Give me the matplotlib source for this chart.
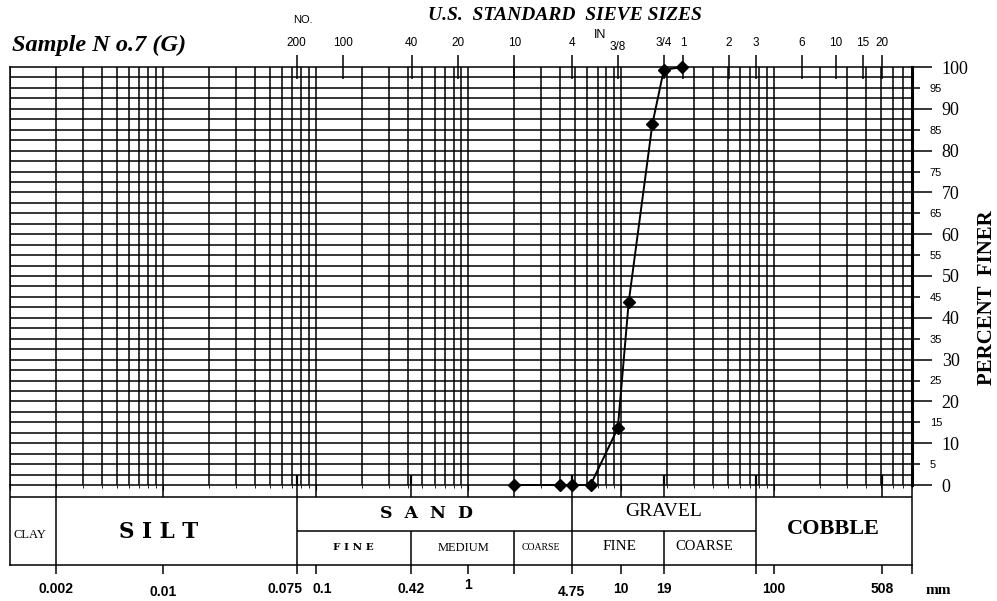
import numpy as np
import matplotlib
matplotlib.use("Agg")
import matplotlib.pyplot as plt
from matplotlib.ticker import NullLocator
from matplotlib.transforms import blended_transform_factory, ScaledTranslation

# grain size curve: sieve opening (mm) vs percent finer
sizes = [2.0, 4.0, 4.75, 6.3, 9.5, 11.2, 16.0, 19.0, 25.0]
finer = [0.0, 0.0, 0.0, 0.0, 13.6, 43.8, 86.4, 99.3, 100.0]

# US standard sieve marks along the top
sieve_mm = [0.075, 0.15, 0.425, 0.85, 2.0, 4.75, 9.525, 19.05, 25.4,
            50.8, 76.2, 152.4, 254.0, 381.0, 508.0]
sieve_lbl = ['200', '100', '40', '20', '10', '4', '3/8', '3/4', '1',
             '2', '3', '6', '10', '15', '20']

# grain size marks along the bottom
bottom_mm = [0.002, 0.01, 0.075, 0.1, 0.42, 1, 2, 4.75, 10, 19, 76.2, 100, 508, 800]
bottom_lbl = ['0.002', '0.01', '0.075', '0.1', '0.42', '1', '', '4.75', '10', '19',
              '', '100', '508', '']

# classification boundaries (mm)
class_full = [0.002, 0.075, 4.75, 76.2]
class_sub = [0.42, 2.0, 19.0]
strip_marks = [0.002, 0.01, 0.075, 0.1, 0.42, 1, 2, 4.75, 10, 19, 76.2, 100, 508]
edge_marks = [0.075, 0.42, 4.75, 19, 76.2, 508]

major_pct = list(range(0, 101, 10))
minor_pct = list(range(5, 100, 10))

W, H = 997, 601
XMIN, XMAX = 0.001, 800


def fx(px):
    return px / W


def fy(py):
    return 1 - py / H


def fr(px):
    # pixel column -> fraction of the chart width
    return (px - 10) / 902.0


serif = 'Liberation Serif'
sans = 'Liberation Sans'
lw = 1.1

fig = plt.figure(figsize=(W / 100, H / 100), dpi=100)
fig.patch.set_facecolor('white')

# ---- main grid
ax = fig.add_axes([fx(10), fy(485), fx(912) - fx(10), fy(67) - fy(485)])
ax.set_xscale('log')
ax.set_xlim(XMIN, XMAX)
ax.set_ylim(0, 100)

vgrid = [m * 10.0 ** k for k in range(-3, 3) for m in range(1, 10) if m * 10.0 ** k <= XMAX]
ax.vlines(vgrid, 0, 100, color='black', lw=lw)
ax.hlines(np.arange(2.5, 100, 2.5), XMIN, XMAX, color='black', lw=lw)
ax.vlines(edge_marks, 0, 2.5, color='black', lw=1.6)

ax.plot(sizes, finer, '-', color='black', lw=1.4, clip_on=False, zorder=5)
ax.plot(sizes, finer, 'D', color='black', ms=6.5, clip_on=False, zorder=6)

for s in ax.spines.values():
    s.set_linewidth(lw)
ax.spines['right'].set_linewidth(2.2)

ax.tick_params(axis='x', which='both', bottom=False, labelbottom=False)
ax.yaxis.tick_right()
ax.set_yticks(major_pct, labels=[str(v) for v in major_pct])
ax.set_yticks(minor_pct, labels=[str(v) for v in minor_pct], minor=True)
ax.tick_params(axis='y', which='major', length=14.4, width=lw, pad=7, labelsize=13)
ax.tick_params(axis='y', which='minor', length=5.8, width=lw, pad=7, labelsize=8)
for t in ax.get_yticklabels():
    t.set_fontfamily(serif)
for t in ax.get_yticklabels(minor=True):
    t.set_fontfamily(sans)

# ---- sieve numbers on top
ax_top = ax.twiny()
ax_top.set_xscale('log')
ax_top.set_xlim(XMIN, XMAX)
ax_top.set_xticks(sieve_mm, labels=sieve_lbl)
ax_top.xaxis.set_minor_locator(NullLocator())
ax_top.tick_params(axis='x', direction='inout', length=16.6, width=lw, pad=5, labelsize=8.5)
for t in ax_top.get_xticklabels():
    t.set_fontfamily(sans)
for tick, lab in zip(ax_top.xaxis.get_major_ticks(), sieve_lbl):
    if lab == '3/8':
        tick.set_pad(1.5)
for s in ax_top.spines.values():
    s.set_visible(False)

# ---- classification table
tb = fig.add_axes([fx(10), fy(565), fx(912) - fx(10), 80 / H])
tb.set_xscale('log')
tb.set_xlim(XMIN, XMAX)
tb.set_ylim(0, 80)
tb.patch.set_alpha(0)
tb.spines['top'].set_visible(False)
for s in tb.spines.values():
    s.set_linewidth(lw)
tb.set_yticks([])
tb.set_xticks(bottom_mm, labels=bottom_lbl)
tb.xaxis.set_minor_locator(NullLocator())
tb.tick_params(axis='x', direction='out', length=6.5, width=lw, pad=6, labelsize=10)
for t in tb.get_xticklabels():
    t.set_fontfamily(sans)
    t.set_fontweight('bold')
for tick, lab in zip(tb.xaxis.get_major_ticks(), bottom_lbl):
    if lab == '1':
        tick.set_pad(3)
    elif lab in ('4.75', '0.01'):
        tick.set_pad(8)
for tick, lab in zip(tb.xaxis.get_major_ticks(), bottom_lbl):
    if lab == '0.075':
        tick.label1.set_transform(tick.label1.get_transform()
                                  + ScaledTranslation(-8 / 72, 0, fig.dpi_scale_trans))
    elif lab == '0.1':
        tick.label1.set_transform(tick.label1.get_transform()
                                  + ScaledTranslation(5 / 72, 0, fig.dpi_scale_trans))

tb.vlines(strip_marks, 68, 80, color='black', lw=lw)
tb.vlines(class_full, 0, 68, color='black', lw=lw)
tb.vlines(class_sub, 0, 34, color='black', lw=lw)
tb.hlines(68, XMIN, XMAX, color='black', lw=lw)
tb.hlines(34, 0.075, 76.2, color='black', lw=lw)

tt = blended_transform_factory(tb.transAxes, tb.transData)
tb.text(fr(30), 30, 'CLAY', transform=tt, ha='center', va='center', family=serif, fontsize=9)
tb.text(fr(159), 33, 'S I L T', transform=tt, ha='center', va='center', family='DejaVu Serif',
        fontweight='bold', fontsize=15.5)
tb.text(fr(426), 51, 'S  A  N  D', transform=tt, ha='center', va='center', family='DejaVu Serif',
        fontweight='bold', fontsize=12.5)
tb.text(fr(664), 53, 'GRAVEL', transform=tt, ha='center', va='center', family=serif, fontsize=14)
tb.text(fr(833), 36, 'COBBLE', transform=tt, ha='center', va='center', family=serif,
        fontweight='bold', fontsize=16)
tb.text(fr(353), 17, 'F I N E', transform=tt, ha='center', va='center', family='DejaVu Serif',
        fontweight='bold', fontsize=7.5)
tb.text(fr(464), 17, 'MEDIUM', transform=tt, ha='center', va='center', family=serif, fontsize=9)
tb.text(fr(541), 17, 'COARSE', transform=tt, ha='center', va='center', family=serif, fontsize=7)
tb.text(fr(620), 18, 'FINE', transform=tt, ha='center', va='center', family=serif, fontsize=11)
tb.text(fr(704), 18, 'COARSE', transform=tt, ha='center', va='center', family=serif, fontsize=10.5)

# ---- titles and captions
fig.text(fx(565), fy(15), 'U.S.  STANDARD  SIEVE SIZES', ha='center', va='center',
         family=serif, fontweight='bold', style='italic', fontsize=14)
fig.text(fx(12), fy(45), 'Sample N o.7 (G)', ha='left', va='center',
         family=serif, fontweight='bold', style='italic', fontsize=17.5)
fig.text(fx(293), fy(20), 'NO.', ha='left', va='center', family=sans, fontsize=8)
fig.text(fx(600), fy(35), 'IN', ha='center', va='center', family=sans, fontsize=9)
fig.text(fx(987), fy(298), 'PERCENT  FINER', ha='center', va='center', rotation=90,
         family=serif, fontweight='bold', fontsize=15)
fig.text(fx(938), fy(591), 'mm', ha='center', va='center', family=serif,
         fontweight='bold', fontsize=11)

fig.savefig('out.png', dpi=100, facecolor='white')
